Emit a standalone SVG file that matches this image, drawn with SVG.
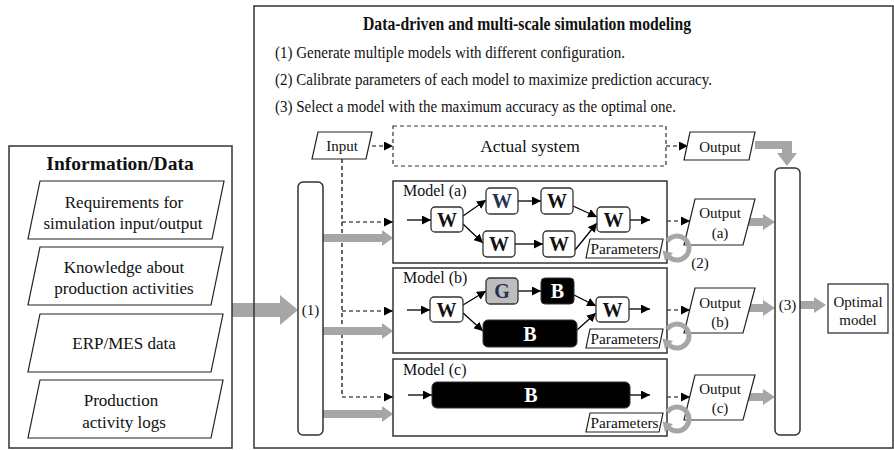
<svg xmlns="http://www.w3.org/2000/svg" width="894" height="450" viewBox="0 0 894 450">
<defs>
<marker id="ah" viewBox="0 0 10 10" refX="10" refY="5" markerWidth="9" markerHeight="9" markerUnits="userSpaceOnUse" orient="auto"><path d="M0,0 L10,5 L0,10z" fill="#000"/></marker>
<g id="ring"><path d="M667.2,241.1 A12,12 0 1 1 668.5,256.5" fill="none" stroke="#a6a6a6" stroke-width="5"/><polygon points="673,253 665,261 662.5,250.5" fill="#a6a6a6"/></g>
</defs>
<style>
text{font-family:"Liberation Serif","Times New Roman",serif;fill:#111;text-anchor:middle}
.box{fill:#fff;stroke:#333;stroke-width:1.5}
.pl{fill:#fff;stroke:#222;stroke-width:1.2}
.w{fill:#fff;stroke:#333;stroke-width:1.3}
.blk{fill:#000;stroke:#333;stroke-width:1}
.lt{font-size:20px;font-weight:bold}
.ln{stroke:#000;stroke-width:1.3;fill:none;marker-end:url(#ah)}
.ds{stroke:#000;stroke-width:1.2;fill:none;stroke-dasharray:4,3}
.gr{fill:#a6a6a6}
.t17{font-size:17px}
.t15{font-size:15px}
.t14{font-size:15px}
</style>
<rect width="894" height="450" fill="#fff"/>

<!-- big gray arrow from info to (1) -->
<polygon class="gr" points="232,303 280,303 280,295 298,310 280,325 280,317 232,317"/>

<g id="info">
<rect x="9" y="146" width="223" height="302" fill="none" stroke="#333" stroke-width="1.5"/>
<text x="120" y="170" style="font-size:19.5px;font-weight:bold">Information/Data</text>
<g id="req"><polygon class="pl" points="40,181 224,181 212,239 28,239"/><text class="t17" x="124" y="208">Requirements for</text><text class="t17" x="123" y="229">simulation input/output</text></g>
<g id="know"><polygon class="pl" points="40,247 223,247 211,305 28,305"/><text class="t17" x="124" y="273">Knowledge about</text><text class="t17" x="124" y="294">production activities</text></g>
<g id="erp"><polygon class="pl" points="40,314 223,314 211,372 28,372"/><text class="t17" x="124" y="349">ERP/MES data</text></g>
<g id="logs"><polygon class="pl" points="40,380 223,380 211,438 28,438"/><text class="t17" x="121" y="406">Production</text><text class="t17" x="124" y="428">activity logs</text></g>
</g>

<g id="main">
<rect x="254" y="6" width="639" height="442" fill="none" stroke="#333" stroke-width="1.5"/>
<text x="527" y="30" style="font-size:18px;font-weight:bold" textLength="328" lengthAdjust="spacingAndGlyphs">Data-driven and multi-scale simulation modeling</text>
<text class="t17" x="275" y="58" style="text-anchor:start" textLength="350" lengthAdjust="spacingAndGlyphs">(1) Generate multiple models with different configuration.</text>
<text class="t17" x="275" y="85" style="text-anchor:start" textLength="437" lengthAdjust="spacingAndGlyphs">(2) Calibrate parameters of each model to maximize prediction accuracy.</text>
<text class="t17" x="275" y="112" style="text-anchor:start" textLength="401" lengthAdjust="spacingAndGlyphs">(3) Select a model with the maximum accuracy as the optimal one.</text>
</g>

<g id="connectors">
<line class="ds" x1="342" y1="159" x2="342" y2="397"/>
<line class="ds" x1="342" y1="222" x2="393" y2="222" marker-end="url(#ah)"/>
<line class="ds" x1="342" y1="311" x2="393" y2="311" marker-end="url(#ah)"/>
<line class="ds" x1="342" y1="397" x2="393" y2="397" marker-end="url(#ah)"/>
<line class="ds" x1="372" y1="146" x2="393" y2="146" marker-end="url(#ah)"/>
<line class="ds" x1="666" y1="146" x2="688" y2="146" marker-end="url(#ah)"/>
<line class="ds" x1="667" y1="221" x2="690" y2="221" marker-end="url(#ah)"/>
<line class="ds" x1="667" y1="310" x2="690" y2="310" marker-end="url(#ah)"/>
<line class="ds" x1="667" y1="397" x2="690" y2="397" marker-end="url(#ah)"/>
<polygon class="gr" points="323,234 382,234 382,230 393,238 382,246 382,242 323,242"/>
<polygon class="gr" points="323,327 382,327 382,323 393,331 382,339 382,335 323,335"/>
<polygon class="gr" points="323,410 382,410 382,406 393,414 382,422 382,418 323,418"/>
<polygon class="gr" points="749,218 763,218 763,214 775,222 763,230 763,226 749,226"/>
<polygon class="gr" points="745,304 763,304 763,300 775,308 763,316 763,312 745,312"/>
<polygon class="gr" points="745,393 763,393 763,389 775,397 763,405 763,401 745,401"/>
<polygon class="gr" points="800,301 814,301 814,297 826,305 814,313 814,309 800,309"/>
<polygon class="gr" points="755,141 792,141 792,153 797,153 787,166 777,153 782,153 782,149 755,149"/>
</g>

<g id="input"><polygon class="pl" points="318,132 372,132 366,159 312,159"/><text class="t14" x="342" y="151">Input</text></g>
<g id="actual"><rect x="393" y="126" width="273" height="40" fill="#fff" stroke="#333" stroke-width="1.2" stroke-dasharray="4,3"/><text x="530" y="152" style="font-size:17.5px">Actual system</text></g>
<g id="output-actual"><polygon class="pl" points="690,132 755,132 749,160 684,160"/><text class="t15" x="720" y="152">Output</text></g>

<g id="gen1"><rect x="298" y="182" width="25" height="253" rx="5" class="box"/><text class="t15" x="310.5" y="315">(1)</text></g>
<g id="sel3"><rect x="775" y="168" width="25" height="267" rx="5" class="box"/><text class="t15" x="787.5" y="310">(3)</text></g>
<g id="optimal"><rect x="828" y="284" width="60" height="49" fill="#fff" stroke="#333" stroke-width="1.3"/><text class="t15" x="858" y="307">Optimal</text><text class="t15" x="858" y="325">model</text></g>

<g id="model-a">
<rect x="393" y="181" width="274" height="82" class="box"/>
<text x="403" y="196" style="text-anchor:start;font-size:16px">Model (a)</text>
<line class="ln" x1="407" y1="220" x2="431" y2="220"/>
<line class="ln" x1="463" y1="216" x2="486" y2="200"/>
<line class="ln" x1="463" y1="224" x2="483" y2="243"/>
<line class="ln" x1="518" y1="201" x2="541" y2="201"/>
<line class="ln" x1="515" y1="244" x2="543" y2="244"/>
<line class="ln" x1="573" y1="206" x2="597" y2="217"/>
<line class="ln" x1="575" y1="250" x2="597" y2="223"/>
<line class="ln" x1="630" y1="220" x2="650" y2="220"/>
<rect class="w" x="431" y="207" width="32" height="25" rx="4"/><text class="lt" x="447" y="227">W</text>
<rect class="w" x="486" y="188" width="32" height="26" rx="4"/><text class="lt" x="502" y="208" style="fill:#26304f">W</text>
<rect class="w" x="541" y="188" width="32" height="26" rx="4"/><text class="lt" x="557" y="208">W</text>
<rect class="w" x="483" y="231" width="32" height="26" rx="4"/><text class="lt" x="499" y="251">W</text>
<rect class="w" x="543" y="231" width="32" height="26" rx="4"/><text class="lt" x="559" y="251">W</text>
<rect class="w" x="597" y="207" width="33" height="25" rx="4"/><text class="lt" x="613.5" y="227">W</text>
<polygon class="pl" points="590,239 663,239 659,258 586,258"/><text class="t14" x="624.5" y="254" textLength="68" lengthAdjust="spacingAndGlyphs">Parameters</text>
</g>
<g id="output-a"><polygon class="pl" points="695,199 755,199 743,245 684,245"/><text class="t15" x="720" y="218">Output</text><text class="t15" x="720" y="238">(a)</text></g>
<use href="#ring"/>
<text class="t15" x="700" y="268">(2)</text>

<g id="model-b">
<rect x="393" y="268" width="274" height="85" class="box"/>
<text x="403" y="283" style="text-anchor:start;font-size:16px">Model (b)</text>
<line class="ln" x1="407" y1="310" x2="430" y2="310"/>
<line class="ln" x1="463" y1="305" x2="486" y2="291"/>
<line class="ln" x1="463" y1="313" x2="483" y2="331"/>
<line class="ln" x1="518" y1="291" x2="541" y2="291"/>
<line class="ln" x1="574" y1="295" x2="596" y2="306"/>
<line class="ln" x1="577" y1="330" x2="596" y2="313"/>
<line class="ln" x1="629" y1="309" x2="650" y2="309"/>
<rect class="w" x="430" y="297" width="33" height="25" rx="4"/><text class="lt" x="446.5" y="317">W</text>
<rect x="486" y="278" width="32" height="26" rx="4" fill="#bdbdbd" stroke="#333" stroke-width="1.3"/><text class="lt" x="502" y="298" style="fill:#26304f">G</text>
<rect class="blk" x="541" y="278" width="33" height="26" rx="4"/><text class="lt" x="557.5" y="298" style="fill:#fff">B</text>
<rect class="blk" x="483" y="320" width="94" height="27" rx="5"/><text class="lt" x="530" y="341" style="fill:#fff">B</text>
<rect class="w" x="596" y="297" width="33" height="25" rx="4"/><text class="lt" x="612.5" y="317">W</text>
<polygon class="pl" points="590,329 663,329 659,348 586,348"/><text class="t14" x="624.5" y="344" textLength="68" lengthAdjust="spacingAndGlyphs">Parameters</text>
</g>
<g id="output-b"><polygon class="pl" points="695,288 755,288 743,333 684,333"/><text class="t15" x="720" y="308">Output</text><text class="t15" x="720" y="327">(b)</text></g>
<use href="#ring" transform="translate(0,88)"/>

<g id="model-c">
<rect x="393" y="359" width="274" height="77" class="box"/>
<text x="403" y="375" style="text-anchor:start;font-size:16px">Model (c)</text>
<line class="ln" x1="408" y1="395" x2="432" y2="395"/>
<line class="ln" x1="630" y1="395" x2="650" y2="395"/>
<rect class="blk" x="432" y="382" width="198" height="26" rx="5"/><text class="lt" x="531" y="402" style="fill:#fff">B</text>
<polygon class="pl" points="590,413 663,413 659,432 586,432"/><text class="t14" x="624.5" y="428" textLength="68" lengthAdjust="spacingAndGlyphs">Parameters</text>
</g>
<g id="output-c"><polygon class="pl" points="695,375 755,375 743,420 684,420"/><text class="t15" x="720" y="394">Output</text><text class="t15" x="720" y="413">(c)</text></g>
<use href="#ring" transform="translate(0,171)"/>
</svg>
